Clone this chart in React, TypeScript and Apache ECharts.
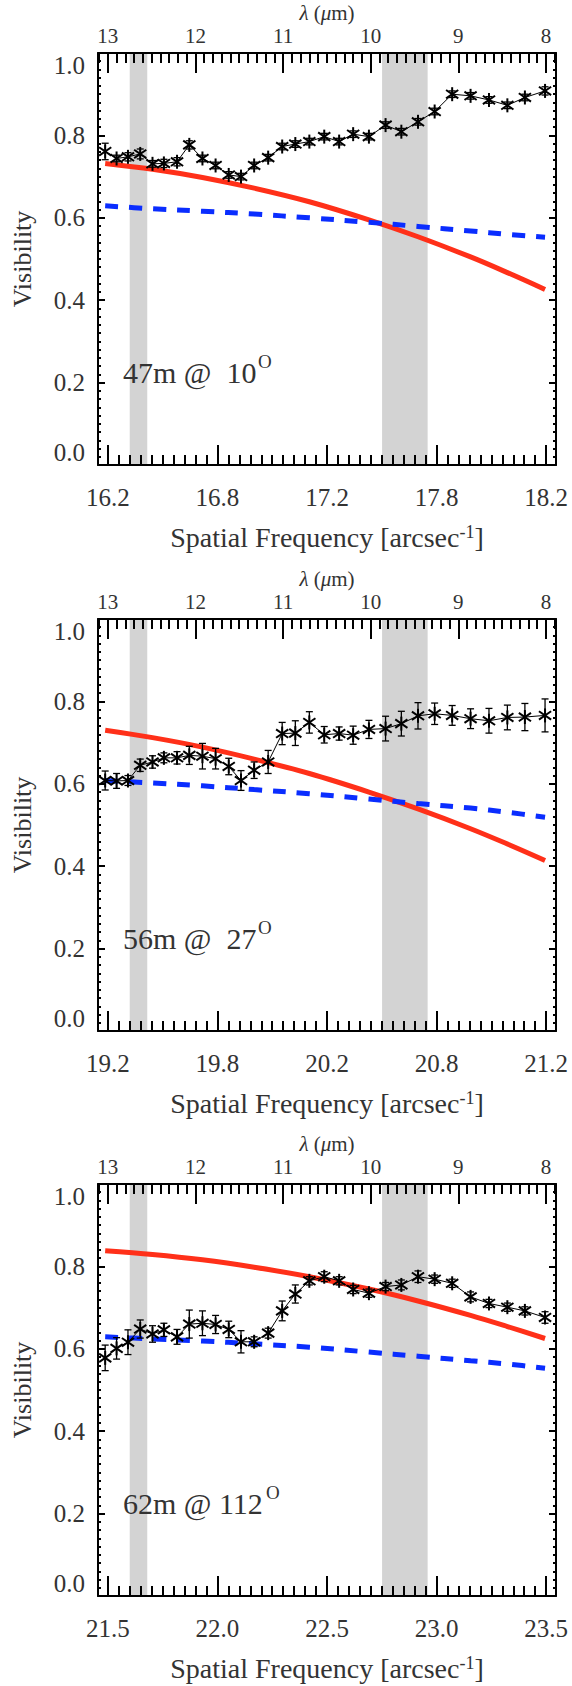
import React, { useEffect, useRef } from "react";
import * as echarts from "echarts";

// wavelength (micron) of each spectral channel, shared by all three baselines
const lambdaPts = [13.03, 12.9, 12.77, 12.63, 12.49, 12.36, 12.21, 12.07, 11.92, 11.77, 11.62, 11.48, 11.33, 11.17, 11.01, 10.86, 10.7, 10.53, 10.36, 10.2, 10.02, 9.83, 9.65, 9.46, 9.27, 9.07, 8.86, 8.65, 8.44, 8.24, 8.01];

// measured visibilities
const vis47 = [0.761, 0.744, 0.748, 0.755, 0.731, 0.732, 0.736, 0.777, 0.744, 0.727, 0.704, 0.7, 0.727, 0.746, 0.773, 0.779, 0.785, 0.797, 0.785, 0.803, 0.797, 0.825, 0.809, 0.833, 0.858, 0.9, 0.896, 0.886, 0.873, 0.892, 0.908];
const err47 = [0.02, 0.008, 0.01, 0.012, 0.008, 0.01, 0.01, 0.01, 0.008, 0.008, 0.008, 0.008, 0.008, 0.008, 0.008, 0.008, 0.008, 0.008, 0.008, 0.008, 0.008, 0.008, 0.008, 0.008, 0.008, 0.008, 0.008, 0.008, 0.008, 0.008, 0.01];
const vis56 = [0.608, 0.607, 0.608, 0.645, 0.653, 0.663, 0.663, 0.669, 0.667, 0.661, 0.642, 0.608, 0.633, 0.653, 0.722, 0.723, 0.749, 0.719, 0.722, 0.718, 0.732, 0.734, 0.746, 0.765, 0.77, 0.766, 0.758, 0.753, 0.761, 0.762, 0.766];
const err56 = [0.023, 0.018, 0.012, 0.015, 0.015, 0.012, 0.015, 0.022, 0.031, 0.025, 0.02, 0.024, 0.02, 0.028, 0.027, 0.03, 0.026, 0.02, 0.016, 0.022, 0.022, 0.03, 0.03, 0.032, 0.026, 0.024, 0.024, 0.03, 0.03, 0.033, 0.04];
const vis62 = [0.578, 0.601, 0.616, 0.648, 0.636, 0.646, 0.629, 0.66, 0.662, 0.659, 0.647, 0.617, 0.617, 0.638, 0.692, 0.733, 0.765, 0.775, 0.765, 0.744, 0.735, 0.751, 0.755, 0.775, 0.769, 0.759, 0.726, 0.71, 0.701, 0.692, 0.676];
const err62 = [0.031, 0.026, 0.03, 0.022, 0.02, 0.016, 0.018, 0.034, 0.03, 0.022, 0.02, 0.027, 0.012, 0.012, 0.024, 0.022, 0.01, 0.012, 0.01, 0.01, 0.01, 0.01, 0.012, 0.014, 0.01, 0.01, 0.012, 0.01, 0.01, 0.01, 0.014];

// model curves
const modelLambda = [13.03, 12.49, 11.92, 11.33, 10.7, 10.02, 9.46, 8.86, 8.44, 8.01];
const red47 = [0.732, 0.718, 0.698, 0.672, 0.639, 0.595, 0.554, 0.505, 0.467, 0.426];
const blue47 = [0.629, 0.622, 0.616, 0.609, 0.6, 0.589, 0.579, 0.568, 0.56, 0.553];
const red56 = [0.73, 0.712, 0.689, 0.66, 0.625, 0.58, 0.539, 0.491, 0.454, 0.414];
const blue56 = [0.608, 0.602, 0.595, 0.586, 0.576, 0.563, 0.552, 0.541, 0.531, 0.519];
const red62 = [0.838, 0.829, 0.816, 0.798, 0.775, 0.745, 0.716, 0.681, 0.654, 0.625];
const blue62 = [0.629, 0.624, 0.619, 0.612, 0.604, 0.592, 0.582, 0.571, 0.563, 0.553];

// axes
const freqTicks47 = [16.25, 16.75, 17.25, 17.75, 18.25];
const freqLabels47 = ["16.2", "16.8", "17.2", "17.8", "18.2"];
const freqRange47 = [16.205, 18.295];
const freqTicks56 = [19.25, 19.75, 20.25, 20.75, 21.25];
const freqLabels56 = ["19.2", "19.8", "20.2", "20.8", "21.2"];
const freqRange56 = [19.205, 21.295];
const freqTicks62 = [21.5, 22.0, 22.5, 23.0, 23.5];
const freqLabels62 = ["21.5", "22.0", "22.5", "23.0", "23.5"];
const freqRange62 = [21.455, 23.545];
const lambdaTicks = [13, 12, 11, 10, 9, 8];
const lambdaRange = [7.885, 13.112];
const bands = [[12.55, 12.75], [9.35, 9.87]];
const baselineLabels = ["47m @  10", "56m @  27", "62m @ 112"];

const FONT = "'Liberation Serif', 'DejaVu Serif', serif";
const TXT = "#333";

const panels = [
  { vis: vis47, err: err47, red: red47, blue: blue47, ft: freqTicks47, fl: freqLabels47, fr: freqRange47 },
  { vis: vis56, err: err56, red: red56, blue: blue56, ft: freqTicks56, fl: freqLabels56, fr: freqRange56 },
  { vis: vis62, err: err62, red: red62, blue: blue62, ft: freqTicks62, fl: freqLabels62, fr: freqRange62 },
];
const tops = [53, 619, 1184];
const supX = [258, 258, 266];

function steps(a: number, b: number, d: number) {
  const out: number[] = [];
  const n = Math.round((b - a) / d);
  for (let i = 0; i <= n; i++) out.push(+(a + i * d).toFixed(4));
  return out;
}

export default function App() {
  const ref = useRef<HTMLDivElement>(null);
  useEffect(() => {
    if (!ref.current) return;
    const chart = echarts.init(ref.current, null, { renderer: "svg" });
    const grid: any[] = [];
    const xAxis: any[] = [];
    const yAxis: any[] = [];
    const series: any[] = [];
    const graphic: any[] = [];
    const lamMinor = steps(7.9, 13.1, 0.1);

    panels.forEach((p, i) => {
      const top = tops[i];
      grid.push({ left: 98, top, width: 458, height: 412, show: false });
      const fMinor = steps(p.ft[0], p.ft[p.ft.length - 1], 0.05);
      const base = {
        gridIndex: i,
        type: "value",
        splitLine: { show: false },
        z: 3,
      };
      xAxis.push({
        ...base,
        position: "bottom",
        min: p.fr[0],
        max: p.fr[1],
        axisLine: { show: true, onZero: false, lineStyle: { color: "#000", width: 2 } },
        axisTick: { show: true, inside: true, length: 20, customValues: p.ft, lineStyle: { color: "#000", width: 2 } },
        axisLabel: {
          show: true,
          customValues: p.ft,
          margin: 20,
          fontSize: 25,
          fontFamily: FONT,
          color: TXT,
          formatter: (v: number) => {
            const k = p.ft.findIndex((t) => Math.abs(t - v) < 1e-6);
            return k >= 0 ? p.fl[k] : "";
          },
        },
        name: "{a|Spatial Frequency [arcsec}{b|-1}{a|]}",
        nameLocation: "middle",
        nameGap: 58,
        nameTextStyle: {
          fontFamily: FONT,
          color: TXT,
          fontSize: 28,
          rich: {
            a: { fontFamily: FONT, color: TXT, fontSize: 28 },
            b: { fontFamily: FONT, color: TXT, fontSize: 18, verticalAlign: "top" },
          },
        },
      });
      xAxis.push({
        ...base,
        position: "bottom",
        min: p.fr[0],
        max: p.fr[1],
        axisLine: { show: false, onZero: false },
        axisTick: { show: true, inside: true, length: 10, customValues: fMinor, lineStyle: { color: "#000", width: 2 } },
        axisLabel: { show: false },
      });
      xAxis.push({
        ...base,
        position: "top",
        inverse: true,
        min: lambdaRange[0],
        max: lambdaRange[1],
        axisLine: { show: true, onZero: false, lineStyle: { color: "#000", width: 2 } },
        axisTick: { show: true, inside: true, length: 20, customValues: lambdaTicks, lineStyle: { color: "#000", width: 2 } },
        axisLabel: {
          show: true,
          customValues: lambdaTicks,
          margin: 7,
          fontSize: 21,
          fontFamily: FONT,
          color: TXT,
          formatter: (v: number) => String(Math.round(v)),
        },
        name: "{i|λ} ({i|μ}m)",
        nameLocation: "middle",
        nameGap: 30,
        nameTextStyle: {
          fontFamily: FONT,
          color: TXT,
          fontSize: 21,
          rich: { i: { fontFamily: FONT, color: TXT, fontSize: 21, fontStyle: "italic" } },
        },
      });
      xAxis.push({
        ...base,
        position: "top",
        inverse: true,
        min: lambdaRange[0],
        max: lambdaRange[1],
        axisLine: { show: false, onZero: false },
        axisTick: { show: true, inside: true, length: 10, customValues: lamMinor, lineStyle: { color: "#000", width: 2 } },
        axisLabel: { show: false },
      });
      const yBase = {
        gridIndex: i,
        type: "value",
        min: 0,
        max: 1,
        interval: 0.2,
        splitLine: { show: false },
        minorSplitLine: { show: false },
        axisLine: { show: true, onZero: false, lineStyle: { color: "#000", width: 2 } },
        axisTick: { show: true, inside: true, length: 7, lineStyle: { color: "#000", width: 2 } },
        minorTick: { show: true, splitNumber: 10, length: 3, lineStyle: { color: "#000", width: 2 } },
        z: 3,
      };
      yAxis.push({
        ...yBase,
        position: "left",
        axisLabel: {
          show: true,
          margin: 13,
          fontSize: 25,
          fontFamily: FONT,
          color: TXT,
          formatter: (v: number) => v.toFixed(1),
          verticalAlignMinLabel: "bottom",
          verticalAlignMaxLabel: "top",
        },
        name: "Visibility",
        nameLocation: "middle",
        nameGap: 63,
        nameTextStyle: { fontFamily: FONT, color: TXT, fontSize: 26 },
      });
      yAxis.push({ ...yBase, position: "right", axisLabel: { show: false } });

      const xLam = 4 * i + 2;
      const yV = 2 * i;
      series.push({
        type: "line",
        xAxisIndex: xLam,
        yAxisIndex: yV,
        data: [],
        z: 1,
        silent: true,
        markArea: {
          silent: true,
          itemStyle: { color: "#d3d3d3" },
          data: bands.map((b) => [{ xAxis: b[1] }, { xAxis: b[0] }]),
        },
      });
      series.push({
        type: "line",
        xAxisIndex: xLam,
        yAxisIndex: yV,
        data: modelLambda.map((l, k) => [l, p.red[k]]),
        smooth: 0.35,
        symbol: "none",
        lineStyle: { color: "#ff3019", width: 5 },
        z: 2,
      });
      series.push({
        type: "line",
        xAxisIndex: xLam,
        yAxisIndex: yV,
        data: modelLambda.map((l, k) => [l, p.blue[k]]),
        smooth: 0.35,
        symbol: "none",
        lineStyle: { color: "#0a2dff", width: 5, type: [13, 11] },
        z: 2,
      });
      series.push({
        type: "line",
        xAxisIndex: xLam,
        yAxisIndex: yV,
        data: lambdaPts.map((l, k) => [l, p.vis[k]]),
        symbol: "none",
        lineStyle: { color: "#000", width: 1 },
        z: 4,
      });
      series.push({
        type: "custom",
        xAxisIndex: xLam,
        yAxisIndex: yV,
        z: 5,
        data: lambdaPts.map((l, k) => [l, p.vis[k], p.err[k]]),
        renderItem: (params: any, api: any) => {
          const x = api.value(0);
          const y = api.value(1);
          const e = api.value(2);
          const c = api.coord([x, y]);
          const t = api.coord([x, y + e]);
          const b = api.coord([x, y - e]);
          const s = 7;
          const dx = s * 0.87;
          const dy = s * 0.6;
          const st = { stroke: "#000", lineWidth: 2 };
          const eb = { stroke: "#000", lineWidth: 1.3 };
          const cap = 3.5;
          return {
            type: "group",
            children: [
              { type: "line", shape: { x1: c[0], y1: t[1], x2: c[0], y2: b[1] }, style: eb },
              { type: "line", shape: { x1: c[0] - cap, y1: t[1], x2: c[0] + cap, y2: t[1] }, style: eb },
              { type: "line", shape: { x1: c[0] - cap, y1: b[1], x2: c[0] + cap, y2: b[1] }, style: eb },
              { type: "line", shape: { x1: c[0], y1: c[1] - s, x2: c[0], y2: c[1] + s }, style: st },
              { type: "line", shape: { x1: c[0] - dx, y1: c[1] - dy, x2: c[0] + dx, y2: c[1] + dy }, style: st },
              { type: "line", shape: { x1: c[0] - dx, y1: c[1] + dy, x2: c[0] + dx, y2: c[1] - dy }, style: st },
            ],
          };
        },
      });

      graphic.push({
        type: "text",
        x: 123,
        y: top + 319,
        z: 10,
        style: { text: baselineLabels[i], fontFamily: FONT, fontSize: 30, fill: TXT, verticalAlign: "middle", align: "left" },
      });
      graphic.push({
        type: "text",
        x: supX[i],
        y: top + 308,
        z: 10,
        style: { text: "O", fontFamily: FONT, fontSize: 19, fill: TXT, verticalAlign: "middle", align: "left" },
      });
    });

    chart.setOption({
      animation: false,
      backgroundColor: "#fff",
      textStyle: { fontFamily: FONT },
      grid,
      xAxis,
      yAxis,
      series,
      graphic,
    });
    return () => chart.dispose();
  }, []);
  return (
    <div
      ref={ref}
      style={{ position: "absolute", left: 0, top: 0, width: 572, height: 1686 }}
    />
  );
}
